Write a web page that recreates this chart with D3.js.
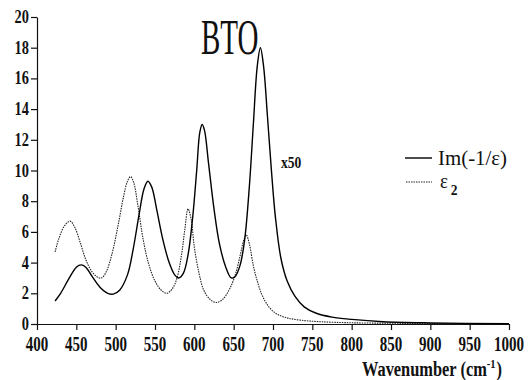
<html lang="en">
<head>
    <meta charset="utf-8">
    <title>BTO</title>
    <script src="https://cdn.jsdelivr.net/npm/d3@7"></script>
</head>
<body style="margin:0; background:#fff">
    <svg width="530" height="380"></svg>
    <script>
        // Im(-1/eps) (solid)
        var imWn  = [423,430,440,450,456,462,470,480,490,497,505,515,522,530,536,541,546,552,560,568,575,580,586,592,598,603,607,610,613,618,625,632,640,647,652,658,664,670,675,680,684,688,693,698,703,710,718,728,740,755,775,800,840,900,1000];
        var imVal = [1.5,2.0,2.9,3.7,3.85,3.7,3.1,2.4,2.0,1.95,2.2,3.2,4.8,7.2,8.8,9.3,8.9,7.5,5.5,4.0,3.2,3.0,3.3,4.5,7.0,10.0,12.5,13.0,12.6,10.5,7.5,5.2,3.7,3.0,3.1,3.8,5.5,9.0,13.0,16.8,18.0,16.8,13.5,10.0,7.0,4.3,2.8,1.8,1.1,0.7,0.45,0.3,0.15,0.07,0.02];

        // eps2 (dotted)
        var e2Wn  = [423,428,435,442,448,455,462,470,477,482,488,495,503,510,515,519,523,528,535,542,550,558,565,572,578,584,588,592,596,600,606,612,620,628,636,645,652,658,663,666,670,675,680,686,695,705,718,735,760,800,850,900,1000];
        var e2Val = [4.7,5.6,6.4,6.7,6.3,5.3,4.2,3.4,3.05,3.0,3.4,4.5,6.4,8.3,9.3,9.6,9.2,7.8,5.5,3.9,2.8,2.2,2.0,2.3,3.0,4.6,6.2,7.5,6.8,5.0,3.3,2.2,1.6,1.4,1.6,2.3,3.2,4.4,5.5,5.8,5.2,3.8,2.8,1.9,1.1,0.65,0.4,0.25,0.15,0.08,0.05,0.03,0.01];

        var xTicks = [400,450,500,550,600,650,700,750,800,850,900,950,1000];
        var yTicks = [0,2,4,6,8,10,12,14,16,18,20];

        var SERIF = "'Liberation Serif', 'Times New Roman', serif";

        var svg = d3.select("svg");
        var x = d3.scaleLinear().domain([400, 1000]).range([37, 509]);
        var y = d3.scaleLinear().domain([0, 20]).range([324, 17]);

        // condensed serif label at (tx,ty)
        function label(parent, tx, ty, sx, size, bold, anchor) {
            return parent.append("text")
                .attr("transform", "translate(" + tx + "," + ty + ") scale(" + sx + ",1)")
                .attr("text-anchor", anchor || "start")
                .style("font-family", SERIF)
                .style("font-size", size + "px")
                .style("font-weight", bold ? "bold" : "normal")
                .style("fill", "#111");
        }

        var gx = svg.append("g")
            .attr("transform", "translate(0," + y(0) + ")")
            .call(d3.axisBottom(x).tickValues(xTicks).tickSize(6).tickSizeOuter(0).tickFormat(""));
        var gy = svg.append("g")
            .attr("transform", "translate(" + x(400) + ",0)")
            .call(d3.axisLeft(y).tickValues(yTicks).tickSize(6).tickSizeOuter(0).tickFormat(""));
        svg.selectAll(".domain, .tick line").style("stroke", "#111").style("stroke-width", "1.2px");

        xTicks.forEach(function(v) {
            label(svg, x(v), 351, 0.75, 20, true, "middle").text(v);
        });
        yTicks.forEach(function(v) {
            label(svg, x(400) - 8, y(v) + 6, 0.8, 18, true, "end").text(v);
        });

        var line = d3.line()
            .curve(d3.curveCatmullRom.alpha(0.5))
            .x(function(d) { return x(d[0]); })
            .y(function(d) { return y(d[1]); });

        svg.append("path")
            .attr("d", line(d3.zip(e2Wn, e2Val)))
            .style("fill", "none").style("stroke", "#222").style("stroke-width", "1.1px")
            .style("stroke-dasharray", "1.5,1");

        svg.append("path")
            .attr("d", line(d3.zip(imWn, imVal)))
            .style("fill", "none").style("stroke", "#000").style("stroke-width", "1.4px");

        // title and scale note
        label(svg, 201, 54, 0.58, 50, false).text("BTO");
        label(svg, 281, 168, 0.8, 17, true).text("x50");

        // legend
        svg.append("line").attr("x1", 405).attr("x2", 432).attr("y1", 158).attr("y2", 158)
            .style("stroke", "#000").style("stroke-width", "1.4px");
        label(svg, 438, 165, 0.95, 22, false).text("Im(-1/ε)");

        svg.append("line").attr("x1", 406).attr("x2", 432).attr("y1", 182).attr("y2", 182)
            .style("stroke", "#222").style("stroke-width", "1.1px").style("stroke-dasharray", "1.5,1");
        var e2 = label(svg, 440, 188, 0.9, 21, false);
        e2.append("tspan").text("ε");
        e2.append("tspan").attr("dx", 3).attr("dy", 7).style("font-size", "15px").style("font-weight", "bold").text("2");

        // x axis title
        var xt = label(svg, 362, 376, 0.82, 20, true);
        xt.append("tspan").text("Wavenumber (cm");
        xt.append("tspan").attr("dy", -8).style("font-size", "13px").text("-1");
        xt.append("tspan").attr("dy", 8).attr("dx", 1).text(")");
    </script>
</body>
</html>
